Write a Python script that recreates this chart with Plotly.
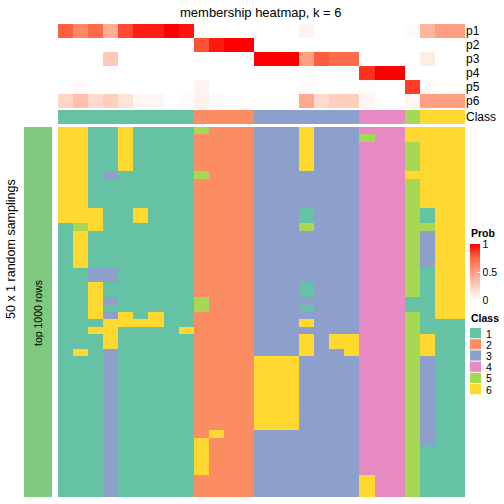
import plotly.graph_objects as go

W = H = 504

# ---------------- data ----------------
class_labels = ["1", "2", "3", "4", "5", "6"]
class_colors = ["#66C2A5", "#FC8D62", "#8DA0CB", "#E78AC3", "#A6D854", "#FFD92F"]

# class of each of the 27 columns (top "Class" annotation)
column_class = [1, 1, 1, 1, 1, 1, 1, 1, 1,
                2, 2, 2, 2,
                3, 3, 3, 3, 3, 3, 3,
                4, 4, 4,
                5,
                6, 6, 6]

prob_names = ["p1", "p2", "p3", "p4", "p5", "p6"]
p1 = [0.77, 0.60, 0.74, 0.42, 0.82, 0.93, 0.93, 1.00, 0.95, 0, 0, 0, 0, 0, 0, 0, 0.06, 0, 0, 0, 0, 0, 0, 0.03, 0.38, 0.50, 0.50]
p2 = [0, 0, 0, 0, 0, 0, 0, 0, 0, 0.80, 0.94, 1.00, 1.00, 0, 0, 0, 0, 0, 0, 0, 0, 0, 0, 0, 0, 0, 0]
p3 = [0, 0, 0, 0.28, 0, 0, 0, 0, 0, 0, 0, 0, 0, 1.00, 1.00, 1.00, 0.50, 0.78, 0.73, 0.73, 0, 0, 0, 0, 0.10, 0, 0]
p4 = [0, 0, 0, 0, 0, 0, 0, 0, 0, 0, 0, 0, 0, 0, 0, 0, 0, 0, 0, 0, 0.88, 1.00, 1.00, 0, 0, 0, 0]
p5 = [0, 0.02, 0, 0, 0, 0, 0, 0, 0, 0.06, 0, 0, 0, 0, 0, 0, 0.02, 0, 0, 0, 0.02, 0, 0, 0.85, 0.02, 0, 0]
p6 = [0.22, 0.33, 0.20, 0.25, 0.15, 0.05, 0.05, 0, 0.02, 0.08, 0.02, 0, 0, 0, 0, 0, 0.45, 0.20, 0.25, 0.25, 0.05, 0, 0, 0.05, 0.50, 0.50, 0.50]

# 50 random samplings x 27 columns, class memberships
membership_rows = [
    "661161111522233363334446666",  # 0
    "661161111222233363335446666",  # 1
    "661161111222233363334445666",  # 2
    "661161111222233363334445666",  # 3
    "661161111222233363334445666",  # 4
    "661161111222233363334445666",  # 5
    "661311111522233333334446666",  # 6
    "661111111222233333334445666",  # 7
    "661111111222233333334445666",  # 8
    "661111111222233333334445666",  # 9
    "661111111222233333334445666",  # 10
    "666116111222233313334445166",  # 11
    "666116111222233313334445166",  # 12
    "156111111222233353334445566",  # 13
    "161111111222233333334445366",  # 14
    "161111111222233333334445366",  # 15
    "161111111222233333334445366",  # 16
    "161111111222233333334445366",  # 17
    "161111111222233333334445366",  # 18
    "113311111222233333334445166",  # 19
    "113311111222233333334445166",  # 20
    "116111111222233313334445166",  # 21
    "116111111222233313334445166",  # 22
    "116311111522233333334441166",  # 23
    "116111111522233313334441166",  # 24
    "116361611222233333334445166",  # 25
    "111666611222233363334445111",  # 26
    "116611116222233333334445111",  # 27
    "111611111222233363664445611",  # 28
    "111611111222233363664445611",  # 29
    "161311111222233363364445611",  # 30
    "111311111222266633334445311",  # 31
    "111311111222266633334445311",  # 32
    "111311111222266633334445311",  # 33
    "111311111222266633334445311",  # 34
    "111311111222266633334445311",  # 35
    "111311111222266633334445311",  # 36
    "111311111222266633334445311",  # 37
    "111311111222266633334445311",  # 38
    "111311111222266633334445311",  # 39
    "111311111222266633334445311",  # 40
    "111311111262233333334445311",  # 41
    "111311111622233333334445311",  # 42
    "111311111622233333334445111",  # 43
    "111311111622233333334445111",  # 44
    "111311111622233333334445111",  # 45
    "111311111622233333334445111",  # 46
    "111311111222233333336445111",  # 47
    "111311111222233333336445111",  # 48
    "111311111222233333336445111",  # 49
]

title_text = "membership heatmap, k = 6"
row_title = "50 x 1 random samplings"
row_group_label = "top 1000 rows"
group_color = "#7FC97F"

# ---------------- helpers ----------------
FONT = "Liberation Sans, Arial, Helvetica, sans-serif"


def px_x(px):
    return px / W


def px_y(py):
    return 1 - py / H


n_cols = len(column_class)
n_rows = len(membership_rows)
membership = [[int(ch) for ch in r] for r in membership_rows]
prob = [p1, p2, p3, p4, p5, p6]

disc_scale = []
for i, c in enumerate(class_colors):
    disc_scale += [[i / 6, c], [(i + 1) / 6, c]]

prob_scale = [[0, "#FFFFFF"], [0.25, "#FFCFBE"], [0.5, "#FF9E81"], [0.75, "#FF6846"], [1, "#FF0000"]]

cols = list(range(n_cols))

fig = go.Figure()

# main membership heatmap
fig.add_trace(go.Heatmap(
    z=membership, x=cols, y=list(range(n_rows)),
    colorscale=disc_scale, zmin=0.5, zmax=6.5, showscale=False,
    xaxis="x", yaxis="y", hoverinfo="skip"))

# Class annotation
fig.add_trace(go.Heatmap(
    z=[column_class], x=cols, y=[0],
    colorscale=disc_scale, zmin=0.5, zmax=6.5, showscale=False,
    xaxis="x", yaxis="y2", hoverinfo="skip"))

# probability annotation
fig.add_trace(go.Heatmap(
    z=prob, x=cols, y=list(range(len(prob_names))),
    colorscale=prob_scale, zmin=0, zmax=1, showscale=True,
    colorbar=dict(
        x=px_x(470), xanchor="left", y=px_y(244), yanchor="top",
        lenmode="pixels", len=56, thicknessmode="pixels", thickness=10,
        xpad=0, ypad=0, outlinewidth=0,
        tickvals=[0, 0.5, 1], ticktext=["0", "0.5", "1"],
        ticks="inside", ticklen=3, tickcolor="white",
        tickfont=dict(family=FONT, size=10.5, color="black")),
    xaxis="x", yaxis="y3", hoverinfo="skip"))

# left group bar
fig.add_trace(go.Heatmap(
    z=[[1] for _ in range(n_rows)], x=[0], y=list(range(n_rows)),
    colorscale=[[0, group_color], [1, group_color]], showscale=False,
    xaxis="x2", yaxis="y", hoverinfo="skip"))

hid = dict(showgrid=False, zeroline=False, showticklabels=False, ticks="", showline=False)

fig.update_layout(
    width=W, height=H,
    margin=dict(l=0, r=0, t=0, b=0),
    paper_bgcolor="white", plot_bgcolor="white",
    font=dict(family=FONT, color="black"),
    xaxis=dict(domain=[px_x(58), px_x(465)], range=[-0.5, n_cols - 0.5], anchor="y", **hid),
    yaxis=dict(domain=[px_y(497), px_y(127)], range=[n_rows - 0.5, -0.5], anchor="x", **hid),
    yaxis2=dict(domain=[px_y(124), px_y(110)], range=[-0.5, 0.5], anchor="x", side="right",
                tickvals=[0], ticktext=["Class"], showgrid=False, zeroline=False, ticks="",
                showline=False, tickfont=dict(family=FONT, size=12, color="black")),
    yaxis3=dict(domain=[px_y(108), px_y(24)], range=[len(prob_names) - 0.5, -0.5], anchor="x",
                side="right", tickvals=list(range(len(prob_names))), ticktext=prob_names,
                showgrid=False, zeroline=False, ticks="", showline=False,
                tickfont=dict(family=FONT, size=12, color="black")),
    xaxis2=dict(domain=[px_x(24), px_x(52)], range=[-0.5, 0.5], anchor="y", **hid),
)

annotations = [
    dict(text=title_text, x=px_x(261), y=px_y(12), xref="paper", yref="paper",
         showarrow=False, font=dict(size=13, family=FONT, color="black"),
         xanchor="center", yanchor="middle"),
    dict(text=row_title, x=px_x(11), y=px_y(249), xref="paper", yref="paper",
         showarrow=False, textangle=-90, font=dict(size=12.5, family=FONT, color="black"),
         xanchor="center", yanchor="middle"),
    dict(text=row_group_label, x=px_x(38), y=px_y(313), xref="paper", yref="paper",
         showarrow=False, textangle=-90, font=dict(size=10.5, family=FONT, color="black"),
         xanchor="center", yanchor="middle"),
    dict(text="<b>Prob</b>", x=px_x(469), y=px_y(233), xref="paper", yref="paper",
         showarrow=False, font=dict(size=10.5, family=FONT, color="black"),
         xanchor="left", yanchor="middle"),
    dict(text="<b>Class</b>", x=px_x(469), y=px_y(318), xref="paper", yref="paper",
         showarrow=False, font=dict(size=10.5, family=FONT, color="black"),
         xanchor="left", yanchor="middle"),
]

shapes = []
top = 328
step = 11.2
for i, (lab, col) in enumerate(zip(class_labels, class_colors)):
    y0 = top + i * step
    shapes.append(dict(type="rect", xref="paper", yref="paper",
                       x0=px_x(470), x1=px_x(481), y0=px_y(y0 + step - 1), y1=px_y(y0),
                       fillcolor=col, line=dict(width=0)))
    annotations.append(dict(text=lab, x=px_x(484), y=px_y(y0 + step / 2), xref="paper", yref="paper",
                            showarrow=False, font=dict(size=10.5, family=FONT, color="black"),
                            xanchor="left", yanchor="middle"))

fig.update_layout(annotations=annotations, shapes=shapes)

fig.write_html("out.html",
               config={"displayModeBar": False},
               post_script="document.body.style.margin='0';document.body.style.padding='0';")
